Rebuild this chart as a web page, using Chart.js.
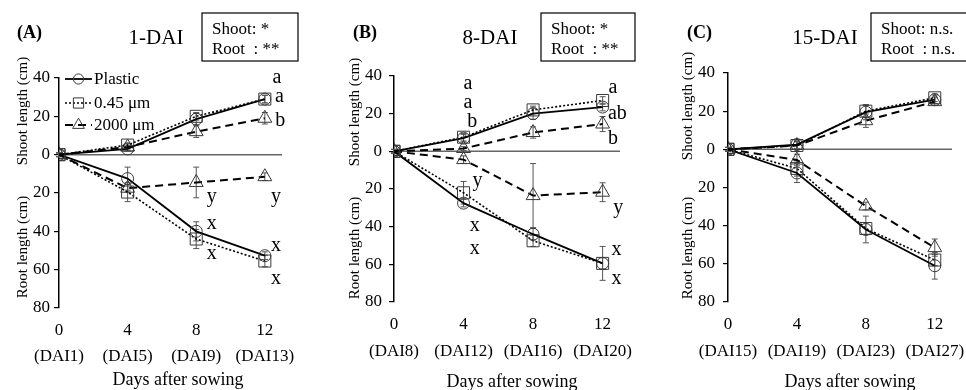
<!DOCTYPE html>
<html>
<head>
<meta charset="utf-8">
<script src="https://cdn.jsdelivr.net/npm/chart.js@4.4.1/dist/chart.umd.min.js"></script>
<style>
  body { margin: 0; background: #fff; }
  #wrap { position: relative; width: 966px; height: 390px; overflow: hidden; }
  canvas { position: absolute; top: 0; }
</style>
</head>
<body>
<div id="wrap">
  <canvas id="panelA" width="322" height="390" style="left:0px"></canvas>
  <canvas id="panelB" width="322" height="390" style="left:322px"></canvas>
  <canvas id="panelC" width="322" height="390" style="left:644px"></canvas>
</div>
<script>
// Gemeinsame Daten
const days = [0, 4, 8, 12];
const xTicks = [0, 4, 8, 12];
const yTicks = [40, 20, 0, -20, -40, -60, -80];
const seriesNames = ['Plastic', '0.45 μm', '2000 μm'];

// (A) 1-DAI
const daiA = ['(DAI1)', '(DAI5)', '(DAI9)', '(DAI13)'];
const shootPlasticA = [0, 3, 18.5, 29];
const shoot045A = [0, 5, 20, 29];
const shoot2000A = [0, 4, 12, 19];
const rootPlasticA = [0, -12.5, -40, -52.7];
const root045A = [0, -19.5, -44, -55.5];
const root2000A = [0, -17.5, -14.5, -11.5];
const shootPlasticErrA = [1, 1, 3, 2];
const shoot045ErrA = [1, 1, 2, 2];
const shoot2000ErrA = [1, 1, 3, 3];
const rootPlasticErrA = [1, 6, 5, 2];
const root045ErrA = [1, 5, 5, 3];
const root2000ErrA = [1, 2, 8, 2];
const lettersA = [['a', 12.7, 40], ['a', 12.85, 30], ['b', 12.9, 17.5],
                  ['y', 8.9, -22], ['x', 8.9, -36], ['x', 8.9, -51.5],
                  ['y', 12.65, -22], ['x', 12.65, -47.5], ['x', 12.65, -64.5]];

// (B) 8-DAI
const daiB = ['(DAI8)', '(DAI12)', '(DAI16)', '(DAI20)'];
const shootPlasticB = [0, 7, 20, 23.5];
const shoot045B = [0, 7.5, 22, 27];
const shoot2000B = [0, 1.5, 10, 14.5];
const rootPlasticB = [0, -27.5, -44, -59.5];
const root045B = [0, -22, -47.5, -59.5];
const root2000B = [0, -4.4, -23.5, -21.7];
const shootPlasticErrB = [1, 2, 3, 2];
const shoot045ErrB = [1, 2, 2, 2];
const shoot2000ErrB = [1, 1, 3, 4];
const rootPlasticErrB = [1, 2, 3, 9];
const root045ErrB = [1, 6, 3, 3];
const root2000ErrB = [1, 2, 17, 5];
const lettersB = [['a', 4.25, 36], ['a', 4.25, 26], ['b', 4.5, 15.5],
                  ['a', 12.6, 34], ['ab', 12.85, 20], ['b', 12.6, 6.5],
                  ['y', 4.8, -15.5], ['x', 4.65, -39.5], ['x', 4.65, -51.5],
                  ['y', 12.9, -30], ['x', 12.8, -52.5], ['x', 12.8, -67.5]];

// (C) 15-DAI
const daiC = ['(DAI15)', '(DAI19)', '(DAI23)', '(DAI27)'];
const shootPlasticC = [0, 2.5, 19.5, 26];
const shoot045C = [0, 2, 20, 27];
const shoot2000C = [0, 2, 15, 25];
const rootPlasticC = [0, -12.4, -42, -61];
const root045C = [0, -10, -41.5, -58];
const root2000C = [0, -5.6, -29.7, -51.5];
const shootPlasticErrC = [1, 2, 4, 2];
const shoot045ErrC = [1, 2, 3, 2];
const shoot2000ErrC = [1, 2, 3.5, 2];
const rootPlasticErrC = [1, 5, 7, 7];
const root045ErrC = [1, 4, 3, 3];
const root2000ErrC = [1, 3, 2, 4.5];

const FONT = '"Liberation Serif", "Times New Roman", serif';

// Gaya garis per seri
const seriesStyle = [
  { dash: [], width: 1.8, pointStyle: 'circle', radius: 6 },
  { dash: [2, 2], width: 1.6, pointStyle: 'rect', radius: 8.5 },
  { dash: [8, 5], width: 2, pointStyle: 'triangle', radius: 8 }
];

function makeDataset(label, values, errs, idx) {
  const s = seriesStyle[idx];
  return {
    label: label,
    data: days.map((d, i) => ({ x: d, y: values[i] })),
    errors: errs,
    borderColor: '#000',
    borderWidth: s.width,
    borderDash: s.dash,
    tension: 0,
    fill: false,
    pointStyle: s.pointStyle,
    pointRadius: s.radius,
    pointHoverRadius: s.radius,
    pointBorderColor: '#3a3a3a',
    pointBorderWidth: 1,
    pointBackgroundColor: 'rgba(255,255,255,0)'
  };
}

function drawMarker(ctx, style, x, y) {
  const r = style.radius;
  ctx.save();
  ctx.setLineDash([]);
  ctx.strokeStyle = '#3a3a3a';
  ctx.lineWidth = 1;
  ctx.beginPath();
  if (style.pointStyle === 'circle') {
    ctx.arc(x, y, r, 0, Math.PI * 2);
  } else if (style.pointStyle === 'rect') {
    const h = r * Math.SQRT1_2;
    ctx.rect(x - h, y - h, 2 * h, 2 * h);
  } else {
    ctx.moveTo(x, y - r);
    ctx.lineTo(x + r * 0.866, y + r * 0.5);
    ctx.lineTo(x - r * 0.866, y + r * 0.5);
    ctx.closePath();
  }
  ctx.stroke();
  ctx.restore();
}

// Plugin untuk teks, kotak, garis nol, error bar
const decorPlugin = {
  id: 'decor',
  beforeDatasetsDraw(chart, args, opts) {
    const ctx = chart.ctx;
    const xs = chart.scales.x, ys = chart.scales.y;
    const area = chart.chartArea;
    // garis nol
    ctx.save();
    ctx.strokeStyle = '#666';
    ctx.lineWidth = 1.5;
    ctx.beginPath();
    ctx.moveTo(area.left, ys.getPixelForValue(0));
    ctx.lineTo(area.right, ys.getPixelForValue(0));
    ctx.stroke();
    // error bar
    ctx.strokeStyle = '#555';
    ctx.lineWidth = 1;
    chart.data.datasets.forEach(ds => {
      ds.data.forEach((p, i) => {
        const e = ds.errors[i];
        const px = xs.getPixelForValue(p.x);
        const y1 = ys.getPixelForValue(p.y + e);
        const y2 = ys.getPixelForValue(p.y - e);
        ctx.beginPath();
        ctx.moveTo(px, y1); ctx.lineTo(px, y2);
        ctx.moveTo(px - 3, y1); ctx.lineTo(px + 3, y1);
        ctx.moveTo(px - 3, y2); ctx.lineTo(px + 3, y2);
        ctx.stroke();
      });
    });
    ctx.restore();
  },
  afterDraw(chart, args, opts) {
    const ctx = chart.ctx;
    const xs = chart.scales.x, ys = chart.scales.y;
    ctx.save();
    ctx.fillStyle = '#000';
    ctx.textBaseline = 'middle';

    // label panel
    ctx.font = 'bold 18px ' + FONT;
    ctx.textAlign = 'left';
    ctx.fillText(opts.label, opts.labelX, 33);

    // judul
    ctx.font = '21px ' + FONT;
    ctx.textAlign = 'center';
    ctx.fillText(opts.title, opts.titleX, 38);

    // kotak signifikansi
    ctx.strokeStyle = '#000';
    ctx.lineWidth = 1.2;
    ctx.strokeRect(opts.boxLeft, 13, opts.boxRight - opts.boxLeft, 48);
    ctx.font = '17px ' + FONT;
    ctx.textAlign = 'left';
    ctx.fillText(opts.box[0], opts.boxLeft + 10, 30);
    ctx.fillText(opts.box[1], opts.boxLeft + 10, 50);

    // huruf kelompok
    ctx.font = '20px ' + FONT;
    ctx.textAlign = 'center';
    opts.letters.forEach(l => {
      ctx.fillText(l[0], xs.getPixelForValue(l[1]), ys.getPixelForValue(l[2]));
    });

    // label DAI
    ctx.font = '17px ' + FONT;
    opts.dai.forEach((t, i) => {
      ctx.fillText(t, xs.getPixelForValue(days[i]), opts.daiY);
    });
    ctx.font = '18px ' + FONT;
    ctx.fillText('Days after sowing', opts.xTitleX, opts.xTitleY);

    // judul sumbu y
    ctx.font = '15px ' + FONT;
    ctx.save();
    ctx.translate(opts.yTitleX, opts.shootTitleY);
    ctx.rotate(-Math.PI / 2);
    ctx.fillText('Shoot length (cm)', 0, 0);
    ctx.restore();
    ctx.save();
    ctx.translate(opts.yTitleX, opts.rootTitleY);
    ctx.rotate(-Math.PI / 2);
    ctx.fillText('Root length (cm)', 0, 0);
    ctx.restore();

    // legenda
    if (opts.legend) {
      ctx.font = '17px ' + FONT;
      ctx.textAlign = 'left';
      const rows = [79, 103, 125];
      seriesNames.forEach((name, i) => {
        const s = seriesStyle[i];
        ctx.save();
        ctx.strokeStyle = '#000';
        ctx.lineWidth = s.width;
        ctx.setLineDash(s.dash);
        ctx.beginPath();
        ctx.moveTo(65, rows[i]); ctx.lineTo(92, rows[i]);
        ctx.stroke();
        ctx.restore();
        drawMarker(ctx, { pointStyle: s.pointStyle, radius: s.radius * 0.85 }, 78.5, rows[i]);
        ctx.fillText(name, 94, rows[i] + 1);
      });
    }
    ctx.restore();
  }
};

function makePanel(id, sets, layout) {
  const datasets = [];
  sets.forEach((s, i) => datasets.push(makeDataset(seriesNames[i % 3], s[0], s[1], i % 3)));
  new Chart(document.getElementById(id), {
    type: 'line',
    data: { datasets: datasets },
    plugins: [decorPlugin],
    options: {
      responsive: false,
      animation: false,
      events: [],
      layout: { padding: { left: 0, top: layout.top, right: 322 - layout.right, bottom: 0 } },
      plugins: {
        legend: { display: false },
        tooltip: { enabled: false },
        decor: layout.decor
      },
      scales: {
        x: {
          type: 'linear',
          min: 0,
          max: 13,
          afterBuildTicks: scale => { scale.ticks = xTicks.map(v => ({ value: v })); },
          afterFit: scale => { scale.height = 390 - layout.bottom; },
          grid: { display: false, drawTicks: false },
          border: { display: false },
          ticks: { color: '#000', padding: 12, font: { family: FONT, size: 17 } }
        },
        y: {
          type: 'linear',
          min: -80,
          max: 40,
          afterBuildTicks: scale => { scale.ticks = yTicks.map(v => ({ value: v })); },
          afterFit: scale => { scale.width = layout.axis; },
          grid: { drawOnChartArea: false, drawTicks: true, tickLength: 5, color: '#000', lineWidth: 1.2 },
          border: { display: true, color: '#000', width: 1.5 },
          ticks: {
            color: '#000',
            padding: layout.tickPad,
            font: { family: FONT, size: 17 },
            callback: v => String(Math.abs(v))
          }
        }
      }
    }
  });
}

makePanel('panelA', [
  [shootPlasticA, shootPlasticErrA], [shoot045A, shoot045ErrA], [shoot2000A, shoot2000ErrA],
  [rootPlasticA, rootPlasticErrA], [root045A, root045ErrA], [root2000A, root2000ErrA]
], {
  axis: 59, right: 282, top: 78, bottom: 308, tickPad: 4,
  decor: {
    label: '(A)', labelX: 17, title: '1-DAI', titleX: 156,
    boxLeft: 202, boxRight: 298, box: ['Shoot: *', 'Root  : **'],
    letters: lettersA, dai: daiA, daiY: 357,
    xTitleX: 178, xTitleY: 380,
    yTitleX: 23, shootTitleY: 111, rootTitleY: 247, legend: true
  }
});

makePanel('panelB', [
  [shootPlasticB, shootPlasticErrB], [shoot045B, shoot045ErrB], [shoot2000B, shoot2000ErrB],
  [rootPlasticB, rootPlasticErrB], [root045B, root045ErrB], [root2000B, root2000ErrB]
], {
  axis: 72, right: 298, top: 76, bottom: 302, tickPad: 7,
  decor: {
    label: '(B)', labelX: 31, title: '8-DAI', titleX: 168,
    boxLeft: 219, boxRight: 313, box: ['Shoot: *', 'Root  : **'],
    letters: lettersB, dai: daiB, daiY: 352,
    xTitleX: 190, xTitleY: 382,
    yTitleX: 33, shootTitleY: 112, rootTitleY: 248, legend: false
  }
});

makePanel('panelC', [
  [shootPlasticC, shootPlasticErrC], [shoot045C, shoot045ErrC], [shoot2000C, shoot2000ErrC],
  [rootPlasticC, rootPlasticErrC], [root045C, root045ErrC], [root2000C, root2000ErrC]
], {
  axis: 84, right: 308, top: 73, bottom: 302, tickPad: 8,
  decor: {
    label: '(C)', labelX: 43, title: '15-DAI', titleX: 181,
    boxLeft: 227, boxRight: 340, box: ['Shoot: n.s.', 'Root  : n.s.'],
    letters: [], dai: daiC, daiY: 352,
    xTitleX: 206, xTitleY: 382,
    yTitleX: 44, shootTitleY: 106, rootTitleY: 248, legend: false
  }
});
</script>
</body>
</html>
